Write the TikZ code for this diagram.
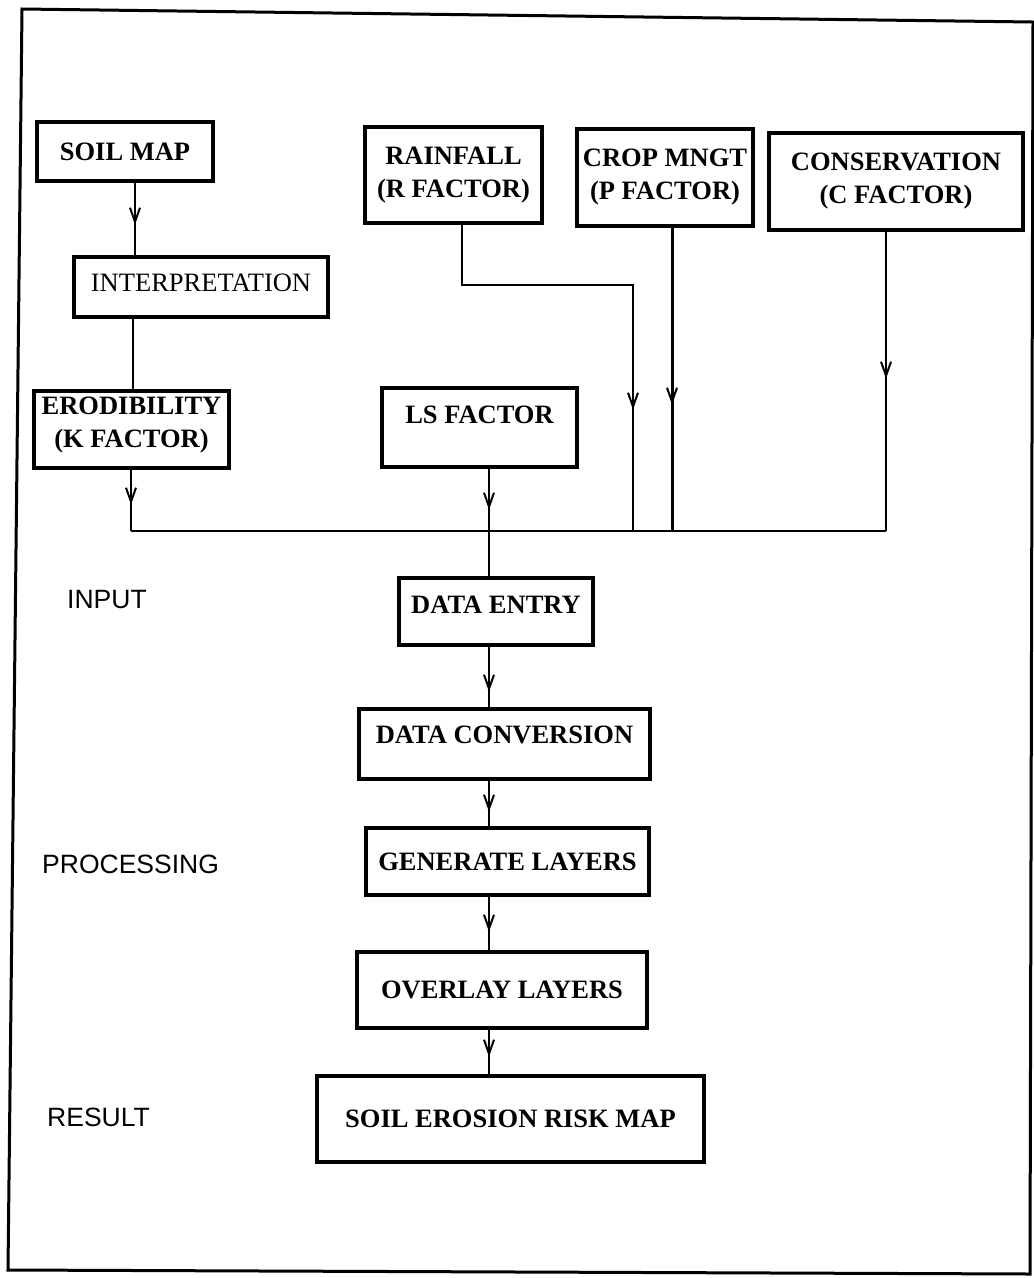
\documentclass[tikz,border=0pt]{standalone}
\usepackage{fontspec}
\setmainfont{Liberation Serif}
\newfontfamily\sansfam{Liberation Sans}
\usetikzlibrary{arrows.meta,decorations.markings}
\begin{document}
\begin{tikzpicture}[x=1pt,y=-1pt,
  box/.style={draw, line width=3.4pt, inner sep=0pt, align=center,
    font=\bfseries\fontsize{26.5}{33}\selectfont},
  plainbox/.style={box, font=\mdseries\fontsize{26.5}{33}\selectfont},
  conn/.style={line width=2pt},
  heavyconn/.style={line width=3pt},
  framebox/.style={line width=3pt},
  sidelabel/.style={anchor=west, inner sep=0pt, font=\sansfam\fontsize{26.5}{30}\selectfont},
  arrowat/.style={postaction={decorate,decoration={markings,
    mark=at position #1 with {\arrow{Straight Barb[length=14pt,width=10pt,line width=2pt]}}}}}
]
\useasboundingbox (0,0) rectangle (1034,1278);
\fill[white] (0,0) rectangle (1034,1278);

% outer frame (slightly skewed scan)
\coordinate (f1) at (22,9);
\coordinate (f2) at (1033,22);
\coordinate (f3) at (1030,1274);
\coordinate (f4) at (8,1270);
\draw[framebox] (f1) -- (f2) -- (f3) -- (f4) -- cycle;

% boxes
\node[box, minimum width=176pt, minimum height=59pt] (soil) at (125,151.5) {SOIL MAP};
\node[plainbox, minimum width=254pt, minimum height=60pt, text depth=9pt] (interp) at (201,287) {INTERPRETATION};
\node[box, minimum width=195pt, minimum height=77pt, text depth=14pt] (erod) at (131.5,429.5) {ERODIBILITY\\(K FACTOR)};
\node[box, minimum width=177pt, minimum height=96pt] (rain) at (453.5,175) {RAINFALL\\(R FACTOR)};
\node[box, minimum width=176pt, minimum height=97pt] (crop) at (665,177.5) {CROP MNGT\\(P FACTOR)};
\node[box, minimum width=254pt, minimum height=97pt] (cons) at (896,181.5) {CONSERVATION\\(C FACTOR)};
\node[box, minimum width=195pt, minimum height=79pt, text depth=25pt] (ls) at (479.5,427.5) {LS FACTOR};
\node[box, minimum width=194pt, minimum height=67pt, text depth=13pt] (de) at (496,611.5) {DATA ENTRY};
\node[box, minimum width=291pt, minimum height=70pt, text depth=18pt] (dc) at (504.5,744) {DATA CONVERSION};
\node[box, minimum width=283pt, minimum height=67pt] (gl) at (507.5,861.5) {GENERATE LAYERS};
\node[box, minimum width=290pt, minimum height=76pt] (ol) at (502,990) {OVERLAY LAYERS};
\node[box, minimum width=387pt, minimum height=86pt] (serm) at (510.5,1119) {SOIL EROSION RISK MAP};

% side labels
\node[sidelabel] (lin) at (67,600) {INPUT};
\node[sidelabel] (lproc) at (42,864) {PROCESSING};
\node[sidelabel] (lres) at (47,1117) {RESULT};

% routing coordinates
\coordinate (xS) at (135,0);
\coordinate (xI) at (133,0);
\coordinate (xM) at (489,0);
\coordinate (busL) at (131,531);
\coordinate (busR) at (886,531);
\coordinate (rb1) at (462,285);
\coordinate (rb2) at (633,285);
\coordinate (rbus) at (633,531);
\coordinate (cbus) at (672,531);

% connectors
\draw[conn, arrowat=42pt] (soil.south -| xS) -- (interp.north -| xS);
\draw[conn] (interp.south -| xI) -- (erod.north -| xI);
\draw[conn, arrowat=35pt] (erod.south -| busL) -- (busL);
\draw[conn] (busL) -- (busR);
\draw[conn, arrowat=356pt] (rain.south -| rb1) -- (rb1) -- (rb2) -- (rbus);
\draw[heavyconn, arrowat=177pt] (crop.south -| cbus) -- (cbus);
\draw[conn, arrowat=147pt] (cons.south -| busR) -- (busR);
\draw[conn, arrowat=41pt] (ls.south -| xM) -- (de.north -| xM);
\draw[conn, arrowat=45pt] (de.south -| xM) -- (dc.north -| xM);
\draw[conn, arrowat=31pt] (dc.south -| xM) -- (gl.north -| xM);
\draw[conn, arrowat=35pt] (gl.south -| xM) -- (ol.north -| xM);
\draw[conn, arrowat=27pt] (ol.south -| xM) -- (serm.north -| xM);
\end{tikzpicture}
\end{document}
